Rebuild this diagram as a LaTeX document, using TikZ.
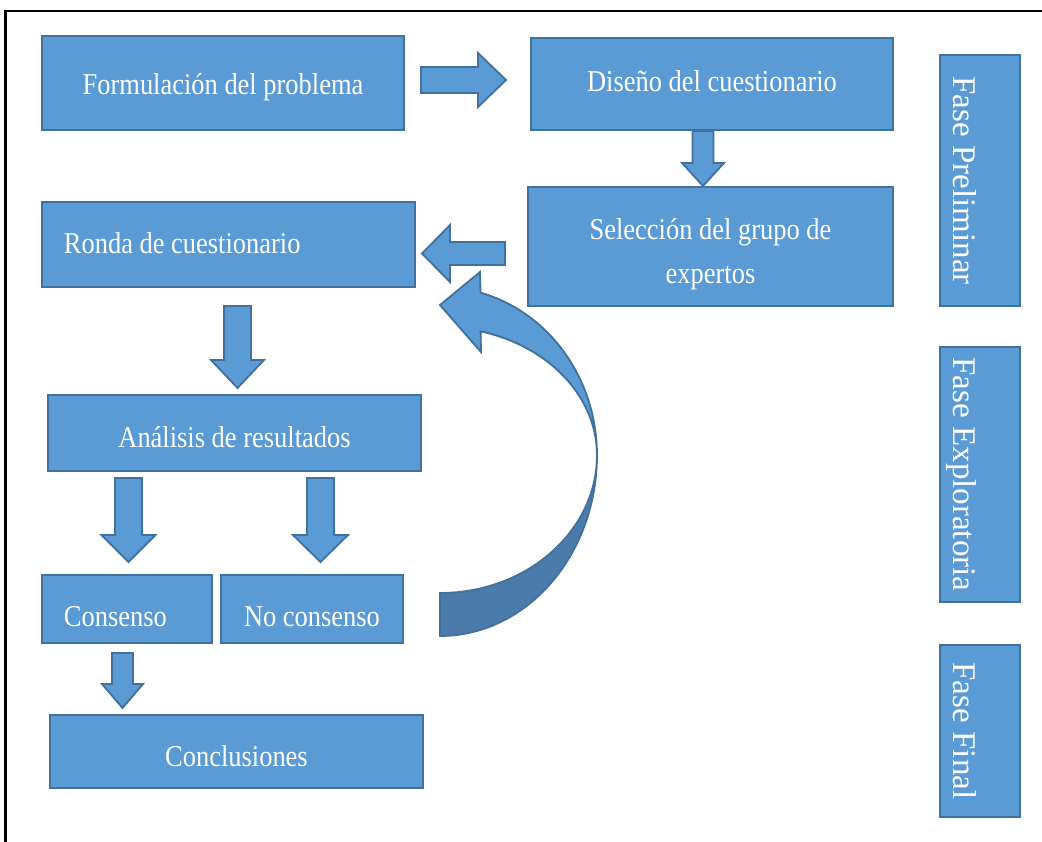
\documentclass[tikz,border=0pt]{standalone}
\usepackage{fontspec}
\setmainfont{Liberation Serif}[FakeStretch=0.875]
\newfontfamily\sidefont{Liberation Serif}
\usepackage{tikz}
\definecolor{boxfill}{HTML}{5B9BD5}
\definecolor{boxline}{HTML}{41719C}
\definecolor{curvedark}{HTML}{4A7BAA}

\begin{document}
\begin{tikzpicture}[x=0.025cm,y=-0.025cm,
	box/.style={draw=boxline,fill=boxfill,line width=1.3pt,text=white,inner sep=0pt,
		font=\fontsize{21.5}{31.5}\selectfont,text height=#1,text depth=5pt},
	box/.default=22pt,
	side/.style={draw=boxline,fill=boxfill,line width=1.3pt,text=white,inner sep=0pt,
		font=\sidefont\fontsize{23.5}{28}\selectfont,rotate=-90,minimum height=2cm,
		text height=38pt,text depth=0pt},
	blockarrow/.style={draw=boxline,fill=boxfill,line width=1.3pt}]
	\useasboundingbox (0,0) rectangle (1042,842);
	\draw[line width=1.5pt] (5.5,842) -- (5.5,11) -- (1042,11);%frame
	% etapas
	\node[box,minimum width=9.05cm,minimum height=2.35cm] (form) at (223,83) {Formulación del problema};
	\node[box=15pt,minimum width=9.05cm,minimum height=2.3cm] (disenio) at (712,84) {Diseño del cuestionario};
	\node[box=57.6pt,minimum width=9.125cm,minimum height=2.975cm,align=center] (selec) at (710.5,246.5) {Selección del grupo de\\expertos};
	\node[box=17.5pt,minimum width=9.325cm,minimum height=2.125cm,text width=8.225cm,align=flush left] (ronda) at (228.5,244.5) {Ronda de cuestionario};
	\node[box=26pt,minimum width=9.325cm,minimum height=1.9cm] (analisis) at (234.5,433) {Análisis de resultados};
	\node[box=30pt,minimum width=4.25cm,minimum height=1.7cm,text width=3.15cm,align=flush left] (consenso) at (127,609) {Consenso};
	\node[box=30pt,minimum width=4.55cm,minimum height=1.7cm] (nocons) at (312,609) {No consenso};
	\node[box=27pt,minimum width=9.325cm,minimum height=1.825cm] (concl) at (236.5,751.5) {Conclusiones};
	% fases
	\node[side,minimum width=6.275cm] (fasepre) at (980,180.5) {Fase Preliminar};
	\node[side,minimum width=6.375cm] (faseexp) at (980,474.5) {Fase Exploratoria};
	\node[side,minimum width=4.3cm] (fasefin) at (980,731) {Fase Final};
	% flechas
	\draw[blockarrow] (421,67) -- (478,67) -- (478,53) -- (506,80) -- (478,107) -- (478,93) -- (421,93) -- cycle;%derecha
	\draw[blockarrow] (505,242) -- (450,242) -- (450,225) -- (422,253.5) -- (450,282) -- (450,265) -- (505,265) -- cycle;%izquierda
	\foreach \cx/\sw/\hw/\top/\base/\tip in {703/10.5/21/131/163/186, 237.5/13.5/26.5/306/360/388,
		128.5/13.5/27/478/535/562, 320.5/13.5/27.5/478/535/562, 122.5/10.5/20.5/653/684/708}
		\draw[blockarrow] (\cx-\sw,\top) -- (\cx+\sw,\top) -- (\cx+\sw,\base) -- (\cx+\hw,\base)
			-- (\cx,\tip) -- (\cx-\hw,\base) -- (\cx-\sw,\base) -- cycle;
	% flecha curva
	\draw[blockarrow,fill=curvedark] (597,455) arc[start angle=0,end angle=90,x radius=157,y radius=181]
		-- (440,593) arc[start angle=90,end angle=0,x radius=157,y radius=138] -- cycle;
	\draw[blockarrow] (480.6,292.7) arc[start angle=-75,end angle=0,x radius=157,y radius=168]
		arc[start angle=0,end angle=-75,x radius=157,y radius=128] -- (481,352) -- (440,305) -- (480,272) -- cycle;
\end{tikzpicture}
\end{document}
